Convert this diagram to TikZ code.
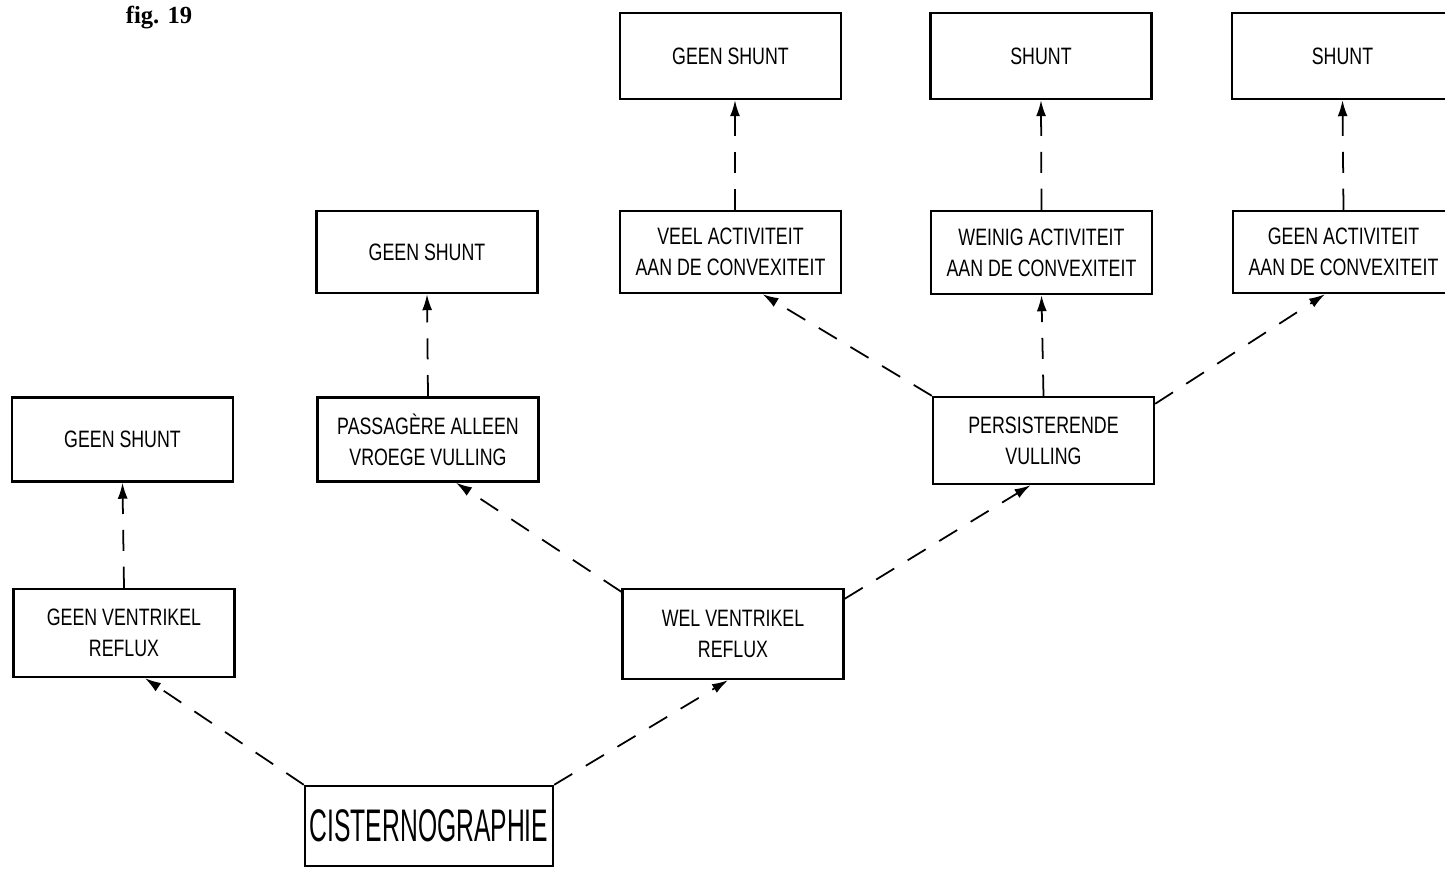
\documentclass[tikz,border=0pt]{standalone}
\usepackage{fontspec}
\setmainfont{Liberation Serif}
\newfontfamily\boxFont[FakeStretch=0.75]{Liberation Sans}
\newfontfamily\rootFont[FakeStretch=0.54]{Liberation Sans}
\usepackage{tikz}
\usetikzlibrary{arrows.meta,positioning,calc}
\tikzset{%
  flowBox/.style={%
    rectangle,
    draw=black,
    line width=1.4pt,
    fill=white,
    minimum width=4.42cm,
    minimum height=1.68cm,
    inner sep=2pt,
    align=center,
    font=\boxFont\fontsize{13.5}{17.6}\selectfont
  },
  rootBox/.style={%
    flowBox,
    minimum width=4.96cm,
    minimum height=1.6cm,
    font=\rootFont\fontsize{26}{30}\selectfont
  },
  dashArrow/.style={%
    -{Latex[length=3.2mm,width=2mm]},
    line width=1pt,
    dash pattern=on 12pt off 9pt
  }
}

\begin{document}
\begin{tikzpicture}[x=0.02cm,y=-0.02cm]
    \useasboundingbox (0,0) rectangle (1445,869);

    % caption
    \node[font=\bfseries\fontsize{14}{16}\selectfont] (caption) at (159,18) {fig. 19};

    % root
    \node[rootBox] (cist) at (429,826) {CISTERNOGRAPHIE};

    % first split
    \node[flowBox, minimum height=1.76cm] (gvr) at (124,633) {GEEN VENTRIKEL\\REFLUX};
    \node[flowBox, minimum height=1.8cm] (wvr) at (733,634) {WEL VENTRIKEL\\REFLUX};

    % second level
    \node[flowBox] (gsLeft) at (122.5,439.5) {GEEN SHUNT};
    \node[flowBox] (pav) at (428,439.5) {PASSAG\`ERE ALLEEN\\VROEGE VULLING};
    \node[flowBox, minimum height=1.74cm] (pv) at (1043.5,440.5) {PERSISTERENDE\\VULLING};

    % third level
    \node[flowBox, minimum height=1.64cm] (gsMid) at (427,252) {GEEN SHUNT};
    \node[flowBox, minimum height=1.64cm] (veel) at (730.5,252) {VEEL ACTIVITEIT\\AAN DE CONVEXITEIT};
    \node[flowBox, minimum height=1.66cm] (weinig) at (1041.5,252.5) {WEINIG ACTIVITEIT\\AAN DE CONVEXITEIT};
    \node[flowBox, minimum height=1.64cm] (geenAct) at (1343.5,252) {GEEN ACTIVITEIT\\AAN DE CONVEXITEIT};

    % top level
    \node[flowBox, minimum height=1.72cm] (gsTop) at (730.5,56) {GEEN SHUNT};
    \node[flowBox, minimum height=1.72cm] (shuntMid) at (1041,56) {SHUNT};
    \node[flowBox, minimum height=1.72cm] (shuntRight) at (1342.5,56) {SHUNT};

    % connectors
    \draw[dashArrow] (cist.north west) -- ([xshift=0.42cm]gvr.south);
    \draw[dashArrow] (cist.north east) -- ([xshift=-0.1cm]wvr.south);
    \draw[dashArrow] (gvr.north) -- (gsLeft.south);
    \draw[dashArrow] ([yshift=-0.08cm]wvr.north west) -- ([xshift=0.56cm]pav.south);
    \draw[dashArrow] ([yshift=-0.22cm]wvr.north east) -- ([xshift=-0.26cm]pv.south);
    \draw[dashArrow] (pav.north) -- (gsMid.south);
    \draw[dashArrow] (pv.north west) -- ([xshift=0.64cm]veel.south);
    \draw[dashArrow] (pv.north) -- (weinig.south);
    \draw[dashArrow] ([yshift=-0.16cm]pv.north east) -- ([xshift=-0.37cm]geenAct.south);
    \draw[dashArrow] ([xshift=0.09cm]veel.north) -- ([xshift=0.09cm]gsTop.south);
    \draw[dashArrow] (weinig.north) -- (shuntMid.south);
    \draw[dashArrow] (geenAct.north) -- (shuntRight.south);
\end{tikzpicture}
\end{document}
